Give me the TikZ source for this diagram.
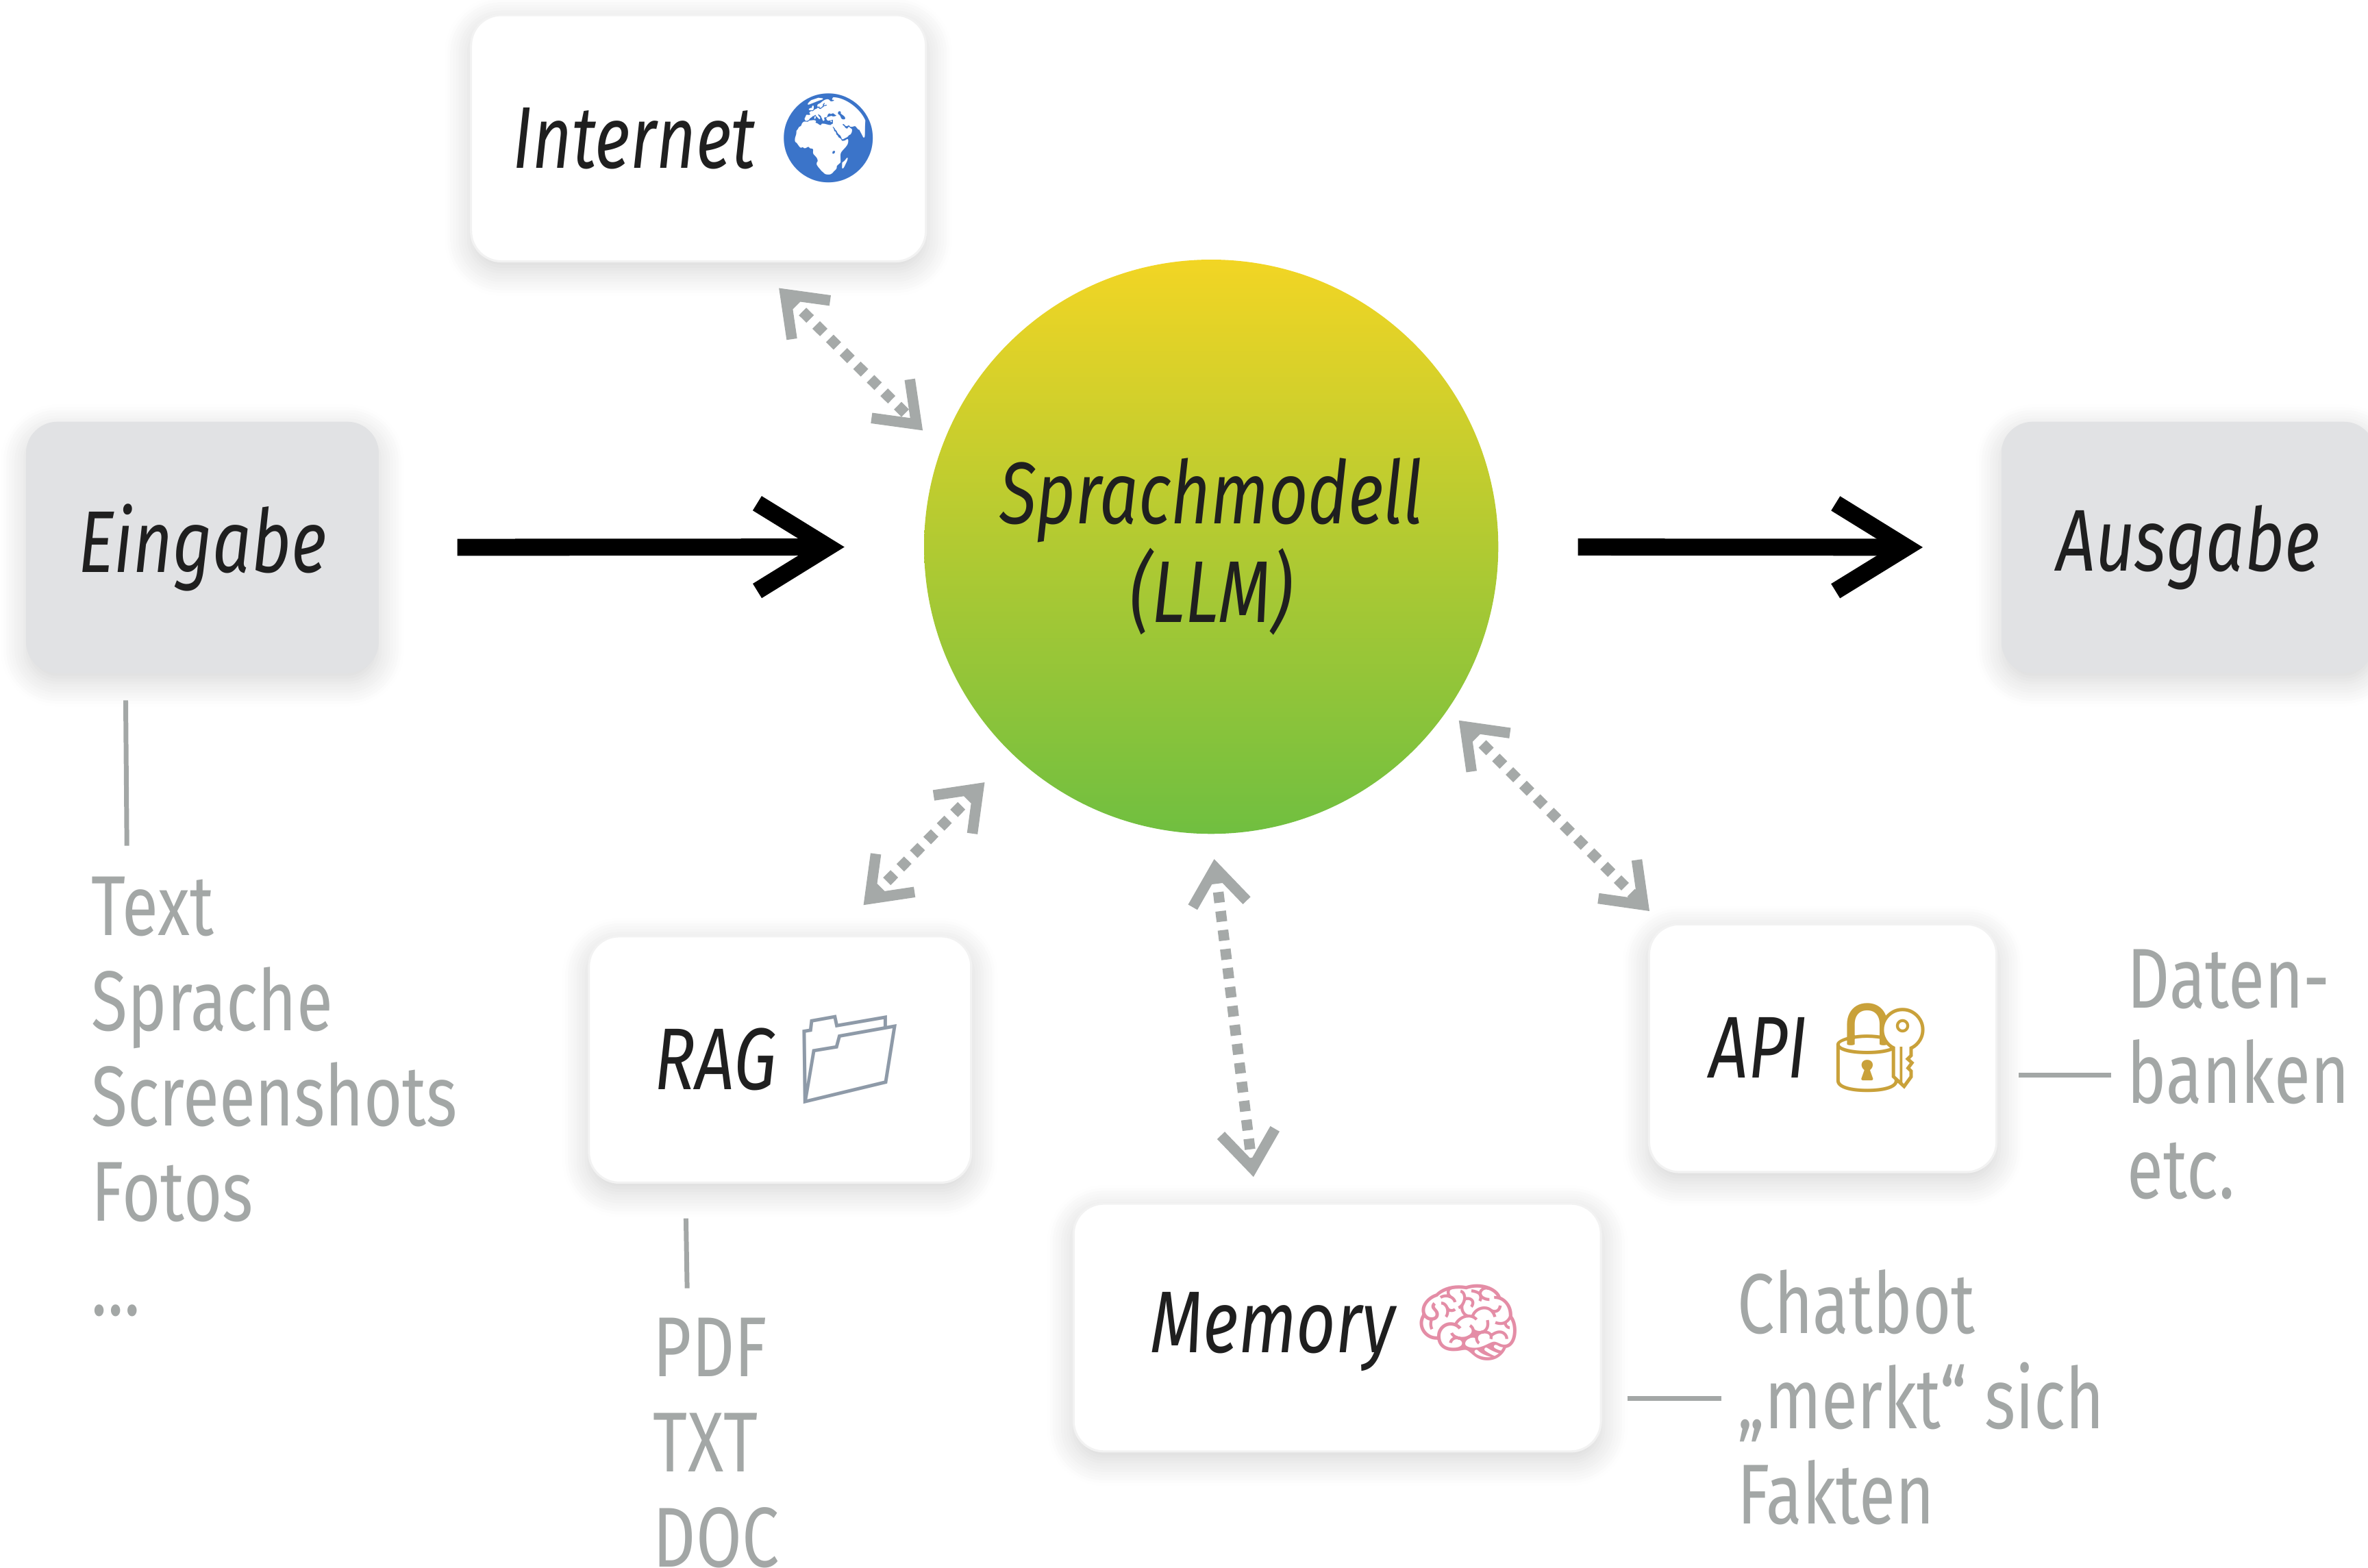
\documentclass[tikz,border=0pt]{standalone}
\usepackage{fontspec}
\setmainfont{Fira Sans}[FakeStretch=0.78]
\newfontfamily\emojifont{Noto Emoji}
\usetikzlibrary{arrows.meta, calc, shadows.blur}
\definecolor{boxgray}{HTML}{E1E2E4}
\definecolor{notegray}{HTML}{A3A7A6}
\definecolor{dotgray}{HTML}{A5A9A8}
\definecolor{llmyellow}{HTML}{F2D524}
\definecolor{llmgreen}{HTML}{70BF40}
\definecolor{globeblue}{HTML}{3B74C9}
\definecolor{foldergray}{HTML}{8E9AA8}
\definecolor{lockgold}{HTML}{C9A13A}
\definecolor{brainpink}{HTML}{E48DA6}
\newcommand{\emo}[2]{{\emojifont\color{#1}#2}}

\begin{document}
\begin{tikzpicture}[x=0.01cm, y=-0.01cm,
  boxtext/.style={font=\fontsize{16.5}{18}\selectfont\itshape, text=black!88},
  card/.style={boxtext, rectangle, rounded corners=0.2cm, fill=white, draw=black!5, line width=0.4pt,
    blur shadow={shadow xshift=0pt, shadow yshift=-1.5pt, shadow blur radius=5pt, shadow blur steps=10, shadow opacity=18}},
  graycard/.style={card, fill=boxgray, draw=boxgray},
  notetext/.style={font=\fontsize{16}{17.9}\selectfont, text=notegray, align=left, anchor=north west, inner sep=0pt},
  stem/.style={draw=notegray, line width=0.9pt},
  mainflow/.style={line width=3.2pt, -{Straight Barb[length=0.47cm, width=0.58cm]}, shorten <=0.52cm, shorten >=0.52cm},
  dotlink/.style={dotgray, line width=2pt, dash pattern=on 2pt off 1.6pt,
    {Straight Barb[length=0.24cm, width=0.36cm]}-{Straight Barb[length=0.24cm, width=0.36cm]}}]
  \useasboundingbox (0,0) rectangle (1568,1038);

  \node[graycard, minimum width=2.32cm, minimum height=1.65cm] (eing) at (134,362.5) {Eingabe};
  \node[card, minimum width=3.01cm, minimum height=1.63cm] (inet) at (462.5,91.5) {Internet \emo{globeblue}{🌍}};
  \node[circle, minimum size=3.8cm, top color=llmyellow, bottom color=llmgreen, boxtext,
    font=\fontsize{16.5}{16}\selectfont\itshape, align=center] (llm) at (802,362) {Sprachmodell\\(LLM)};
  \node[graycard, minimum width=2.46cm, minimum height=1.65cm] (ausg) at (1449,362.5) {Ausgabe};
  \node[card, minimum width=2.53cm, minimum height=1.63cm] (rag) at (516.5,701.5) {RAG \emo{foldergray}{📁}};
  \node[card, minimum width=3.49cm, minimum height=1.64cm] (mem) at (885.5,879) {Memory \emo{brainpink}{🧠}};
  \node[card, minimum width=2.30cm, minimum height=1.64cm] (api) at (1207,694) {API \emo{lockgold}{🔐}};

  \node[notetext] (inlist) at (60,580) {Text\\Sprache\\Screenshots\\Fotos\\…};
  \node[notetext] (raglist) at (432,872) {PDF\\TXT\\DOC};
  \node[notetext] (memlist) at (1150,840) {Chatbot\\„merkt“ sich\\Fakten};
  \node[notetext] (apilist) at (1408,628) {Daten-\\banken\\etc.};

  \draw[stem] ($(eing.south west)+(66,18)$) -- ($(inlist.north west)+(24,-20)$);
  \draw[stem] ($(rag.south west)+(65,23)$) -- ($(raglist.north west)+(23,-19)$);
  \draw[stem] ($(mem.east)+(17,47)$) -- ($(memlist.north west)+(-10,86)$);
  \draw[stem] ($(api.east)+(14,18)$) -- ($(apilist.north west)+(-10,84)$);

  \draw[mainflow] (eing) -- (llm);
  \draw[mainflow] (llm) -- (ausg);

  \draw[dotlink] ($(inet.south east)+(-98,17)$) -- ($(llm)+(-191,-77)$);
  \draw[dotlink] ($(rag.north east)+(-72,-20)$) -- ($(llm)+(-150,156)$);
  \draw[dotlink] ($(llm.south)+(2,16)$) -- ($(mem.north)+(-55.5,-17)$);
  \draw[dotlink] ($(llm)+(164,115)$) -- ($(api.north west)+(1,-8)$);
\end{tikzpicture}
\end{document}
